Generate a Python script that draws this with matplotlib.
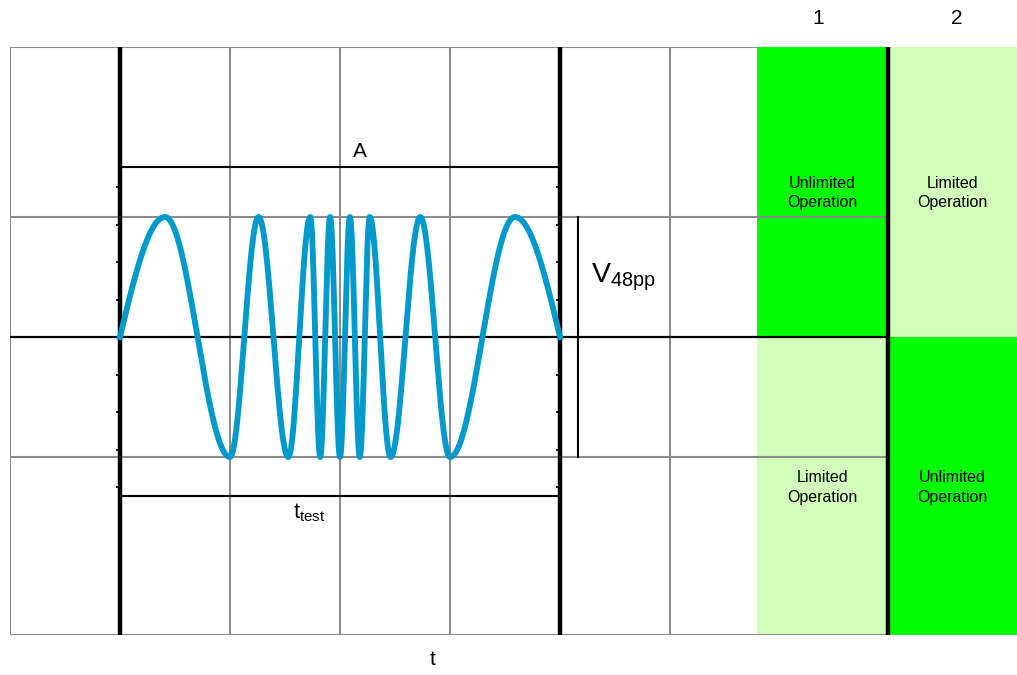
import numpy as np
import matplotlib
matplotlib.use("Agg")
import matplotlib.pyplot as plt

plt.rcParams['font.family'] = ['Liberation Sans', 'DejaVu Sans']
plt.rcParams['mathtext.fontset'] = 'custom'
plt.rcParams['mathtext.rm'] = 'Liberation Sans'

# sweep signal: start/end of the burst and the times of its peaks/troughs (grid divisions)
sweep_start = 1.0
sweep_end = 5.0
extrema_t = [1.41, 2.0, 2.26, 2.53, 2.73, 2.82, 2.91, 3.0,
             3.09, 3.18, 3.27, 3.46, 3.73, 4.0, 4.59]
amplitude = 1.0

# operating state columns
column_labels = ['1', '2']
top_states = ['Unlimited\nOperation', 'Limited\nOperation']
bottom_states = ['Limited\nOperation', 'Unlimited\nOperation']

BRIGHT = '#00ff00'
LIGHT = '#d3fdbb'
GRID = '#8c8c8c'
WAVE = '#0099cc'

# layout (grid divisions)
x_max = 1007 / 110
y_top, y_bot = 290 / 120, -298 / 120
col_edges = [6.79, 7.982, x_max]

fig = plt.figure(figsize=(10.17, 6.75), dpi=100)
ax = fig.add_axes([10 / 1017, 40 / 675, 1007 / 1017, 588 / 675])
ax.set_xlim(0, x_max)
ax.set_ylim(y_bot, y_top)
ax.axis('off')

# coloured state columns
for i in range(2):
    x0, x1 = col_edges[i], col_edges[i + 1]
    top_c = BRIGHT if i == 0 else LIGHT
    bot_c = LIGHT if i == 0 else BRIGHT
    ax.fill_between([x0, x1], 0, y_top, color=top_c, lw=0, zorder=0)
    ax.fill_between([x0, x1], y_bot, 0, color=bot_c, lw=0, zorder=0)
    xc = (x0 + x1) / 2
    ax.text(xc, 1.2, top_states[i], ha='center', va='center', fontsize=11.5,
            linespacing=1.35, zorder=5)
    ax.text(xc, -1.255, bottom_states[i], ha='center', va='center', fontsize=11.5,
            linespacing=1.35, zorder=5)
    ax.text(xc - 0.035 * (1 - 2 * i), 2.65, column_labels[i], ha='center', va='center',
            fontsize=15, clip_on=False)

# grid
for gx in [0, 2, 3, 4, 6]:
    ax.plot([gx, gx], [y_bot, y_top], color=GRID, lw=1.5, zorder=1)
ax.plot([0, col_edges[0]], [y_top, y_top], color=GRID, lw=1.5, zorder=1)
for gy in [1, -1, y_bot]:
    ax.plot([0, col_edges[1]], [gy, gy], color=GRID, lw=1.5, zorder=1)
ax.plot([0, col_edges[1]], [0, 0], color='black', lw=1.6, zorder=2)
for bx in [sweep_start, sweep_end, col_edges[1]]:
    ax.plot([bx, bx], [y_bot, y_top], color='black', lw=3.2, zorder=2)

# small tick marks on the burst boundaries
ticks_y = [k * 0.3125 for k in range(-4, 5) if k != 0]
for bx in [sweep_start, sweep_end]:
    ax.plot([bx - 0.012] * len(ticks_y), ticks_y, ls='none', marker='_', ms=4,
            mew=1.2, color='black', zorder=2)

# the sweep itself
nodes = [sweep_start] + extrema_t + [sweep_end]
phases = [0.0] + [np.pi / 2 + k * np.pi for k in range(len(extrema_t))] + [len(extrema_t) * np.pi]
t = np.linspace(sweep_start, sweep_end, 3000)
ax.plot(t, amplitude * np.sin(np.interp(t, nodes, phases)), color=WAVE, lw=4.2, zorder=3)

# annotations
ax.plot([sweep_start, sweep_end], [1.417, 1.417], color='black', lw=1.5, zorder=2)
ax.text(3.177, 1.5, 'A', ha='center', va='baseline', fontsize=15, zorder=5)
ax.plot([sweep_start, sweep_end], [-1.325, -1.325], color='black', lw=1.5, zorder=2)
ax.text(2.575, -1.508, r'$\mathregular{t_{test}}$', ha='left', va='baseline',
        fontsize=15.5, zorder=5)
ax.plot([5.164, 5.164], [-amplitude, amplitude], color='black', lw=1.5, zorder=2)
ax.text(5.285, 0.458, r'$\mathregular{V_{48pp}}$', ha='left', va='baseline',
        fontsize=20.5, zorder=5)
ax.text(3.845, -2.733, 't', ha='center', va='baseline', fontsize=15, clip_on=False)

fig.savefig('out.png', dpi=100)
